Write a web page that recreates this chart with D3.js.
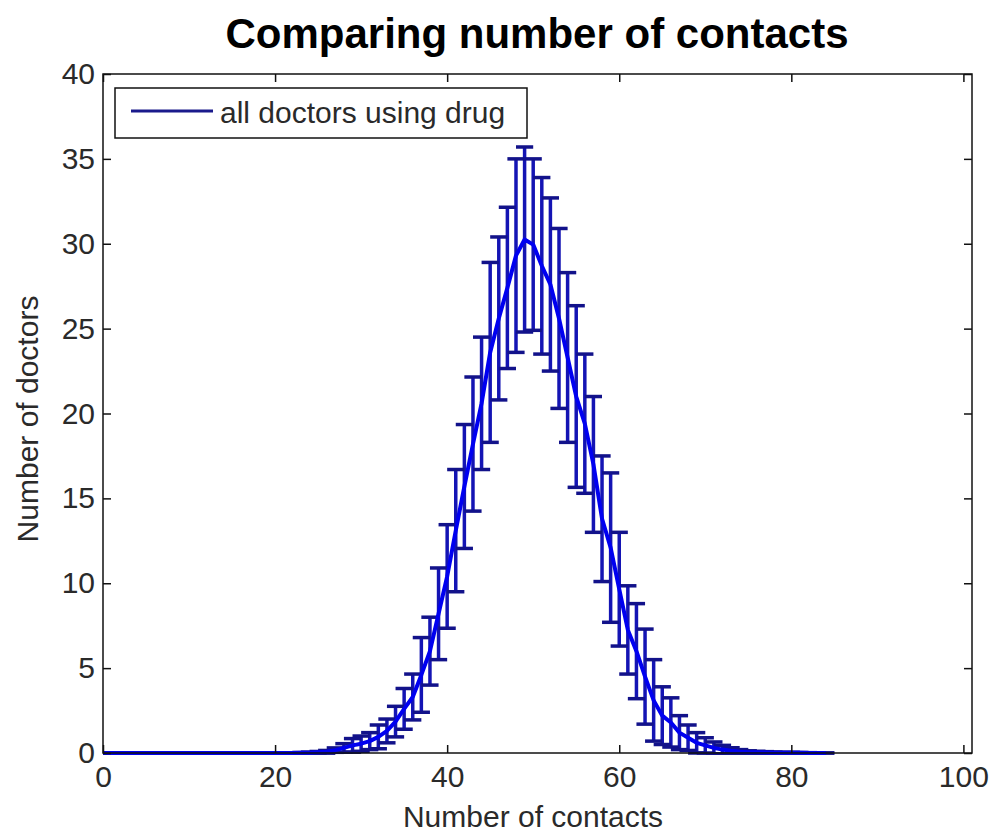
<!DOCTYPE html>
<html>
<head>
<meta charset="utf-8">
<script src="https://cdn.jsdelivr.net/npm/d3@7"></script>
<style>
  body { margin: 0; background: #fff; }
  text { font-family: "Liberation Sans", Arial, sans-serif; }
</style>
</head>
<body>
<div id="chart-area"></div>
<script>
// number of contacts (x) and mean / error of number of doctors
var contacts = [0,1,2,3,4,5,6,7,8,9,10,11,12,13,14,15,16,17,18,19,20,
    21,22,23,24,25,26,27,28,29,30,31,32,33,34,35,36,37,38,39,40,
    41,42,43,44,45,46,47,48,49,50,51,52,53,54,55,56,57,58,59,60,
    61,62,63,64,65,66,67,68,69,70,71,72,73,74,75,76,77,78,79,80,
    81,82,83,84];
var doctors = [0,0,0,0,0,0,0,0,0,0,0,0,0,0,0,0,0,0,0,0,0,
    0,0,0.01,0.02,0.04,0.07,0.17,0.3,0.45,0.55,
    0.7,0.95,1.3,1.85,2.6,3.3,4.6,6.0,8.2,10.4,
    13.1,15.7,18.2,20.6,23.6,25.6,27.4,29.3,30.25,29.95,
    28.7,27.6,25.6,23.3,21.0,19.4,17.0,13.8,12.1,9.65,
    7.25,6.0,4.5,3.1,2.2,1.8,1.2,0.9,0.6,0.45,
    0.3,0.2,0.13,0.08,0.05,0.04,0.03,0.02,0.01,0.01,
    0.01,0,0,0];
var errors = [0,0,0,0,0,0,0,0,0,0,0,0,0,0,0,0,0,0,0,0,0,
    0,0,0.02,0.03,0.05,0.08,0.13,0.25,0.4,0.45,
    0.5,0.7,0.7,0.9,1.2,1.35,2.2,2.0,2.7,3.05,
    3.6,3.65,3.95,3.9,5.3,4.8,4.75,5.7,5.45,5.05,
    5.2,5.1,5.3,5.0,5.35,4.1,4.0,3.7,4.4,3.35,
    2.6,2.8,2.8,2.4,1.7,1.45,1.0,0.75,0.6,0.45,
    0.35,0.25,0.18,0.12,0.08,0.06,0.05,0.04,0.03,0.03,
    0.02,0.02,0.01,0];
var xTicks = [0, 20, 40, 60, 80, 100];
var yTicks = [0, 5, 10, 15, 20, 25, 30, 35, 40];

var width = 993, height = 834;
var margin = {top: 74, right: 21, bottom: 81, left: 103};

var svg = d3.select("#chart-area").append("svg")
    .attr("width", width)
    .attr("height", height);

var data = contacts.map((c, i) => ({x: c, y: doctors[i], e: errors[i]}));

var x = d3.scaleLinear()
    .domain([0, 101])
    .range([margin.left, width - margin.right]);
var y = d3.scaleLinear()
    .domain([0, 40])
    .range([height - margin.bottom, margin.top]);

svg.append("clipPath").attr("id", "plot-clip")
    .append("rect")
    .attr("x", x(0)).attr("y", y(40))
    .attr("width", x(101) - x(0)).attr("height", y(0) - y(40) + 2);

var plot = svg.append("g").attr("clip-path", "url(#plot-clip)");

// error bars
var capHalf = x(1) - x(0);
var bars = plot.append("g").attr("class", "errorbars");
bars.selectAll("line.v").data(data).enter().append("line")
    .attr("class", "v")
    .attr("x1", d => x(d.x)).attr("x2", d => x(d.x))
    .attr("y1", d => y(d.y - d.e)).attr("y2", d => y(d.y + d.e))
    .attr("stroke", "#1414b4").attr("stroke-width", 3.5);
bars.selectAll("line.top").data(data).enter().append("line")
    .attr("class", "top")
    .attr("x1", d => x(d.x) - capHalf).attr("x2", d => x(d.x) + capHalf)
    .attr("y1", d => y(d.y + d.e)).attr("y2", d => y(d.y + d.e))
    .attr("stroke", "#12128a").attr("stroke-width", 3.5);
bars.selectAll("line.bot").data(data).enter().append("line")
    .attr("class", "bot")
    .attr("x1", d => x(d.x) - capHalf).attr("x2", d => x(d.x) + capHalf)
    .attr("y1", d => y(d.y - d.e)).attr("y2", d => y(d.y - d.e))
    .attr("stroke", "#12128a").attr("stroke-width", 3.5);

// mean curve
var line = d3.line().x(d => x(d.x)).y(d => y(d.y));
plot.append("path")
    .datum(data)
    .attr("d", line)
    .attr("fill", "none")
    .attr("stroke", "#0000f0")
    .attr("stroke-width", 4)
    .attr("stroke-linejoin", "round");

// axes (ticks inside, on all four sides)
var axisColor = "#111";
function styleAxis(g) {
    g.select(".domain").remove();
    g.selectAll(".tick line").attr("stroke", axisColor).attr("stroke-width", 1.5);
    g.selectAll(".tick text").attr("fill", "#2a2a2a").attr("font-size", "30px")
        .attr("font-family", "'Liberation Sans', Arial, sans-serif");
}
svg.append("g")
    .attr("transform", "translate(0," + y(0) + ")")
    .call(d3.axisBottom(x).tickValues(xTicks).tickSize(-8).tickPadding(13))
    .call(styleAxis);
svg.append("g")
    .attr("transform", "translate(0," + y(40) + ")")
    .call(d3.axisTop(x).tickValues(xTicks).tickSize(-8).tickFormat(""))
    .call(styleAxis);
svg.append("g")
    .attr("transform", "translate(" + x(0) + ",0)")
    .call(d3.axisLeft(y).tickValues(yTicks).tickSize(-8).tickPadding(8))
    .call(styleAxis);
svg.append("g")
    .attr("transform", "translate(" + x(101) + ",0)")
    .call(d3.axisRight(y).tickValues(yTicks).tickSize(-8).tickFormat(""))
    .call(styleAxis);

svg.append("rect")
    .attr("x", x(0)).attr("y", y(40))
    .attr("width", x(101) - x(0)).attr("height", y(0) - y(40))
    .attr("fill", "none").attr("stroke", axisColor).attr("stroke-width", 1.5);

// legend
var legend = svg.append("g");
legend.append("rect")
    .attr("x", 115).attr("y", 88).attr("width", 412).attr("height", 50)
    .attr("fill", "#fff").attr("stroke", axisColor).attr("stroke-width", 1.5);
legend.append("line")
    .attr("x1", 131).attr("x2", 213).attr("y1", 111).attr("y2", 111)
    .attr("stroke", "#1a1a8c").attr("stroke-width", 3);
legend.append("text")
    .attr("x", 220).attr("y", 123)
    .attr("font-size", "30px").attr("fill", "#2a2a2a")
    .text("all doctors using drug");

// title and labels
svg.append("text")
    .attr("x", 537).attr("y", 48)
    .attr("text-anchor", "middle")
    .attr("font-size", "42px").attr("font-weight", "bold").attr("fill", "#000")
    .text("Comparing number of contacts");
svg.append("text")
    .attr("x", 533).attr("y", 827)
    .attr("text-anchor", "middle")
    .attr("font-size", "30px").attr("fill", "#2a2a2a")
    .text("Number of contacts");
svg.append("text")
    .attr("transform", "translate(38,419) rotate(-90)")
    .attr("text-anchor", "middle")
    .attr("font-size", "30px").attr("fill", "#2a2a2a")
    .text("Number of doctors");
</script>
</body>
</html>
